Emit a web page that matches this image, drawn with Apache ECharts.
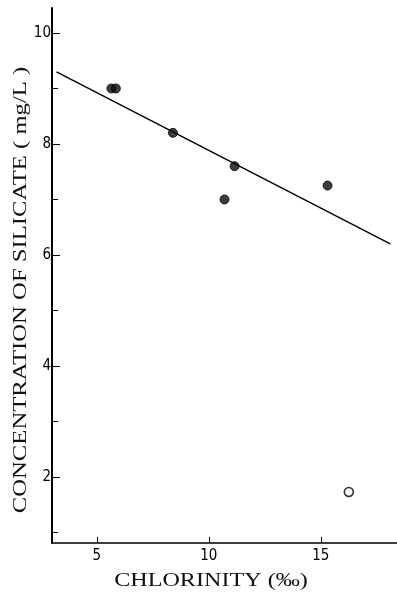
<!DOCTYPE html>
<html>
<head>
<meta charset="utf-8">
<script src="https://cdn.jsdelivr.net/npm/echarts@6/dist/echarts.min.js"></script>
<style>
  html, body { margin: 0; padding: 0; background: #fff; }
  #chart { width: 397px; height: 593px; }
</style>
</head>
<body>
<div id="chart"></div>
<script>
// Chlorinity (per mille) vs. silicate concentration (mg/L)
const chlorinity = [5.65, 5.85, 8.4, 11.15, 10.7, 15.3];
const silicate   = [9.0, 9.0, 8.2, 7.6, 7.0, 7.25];

// Outlying sample, drawn as an open circle
const outlierChlorinity = [16.25];
const outlierSilicate   = [1.73];

// Fitted regression line end points
const fitChlorinity = [3.2, 18.1];
const fitSilicate   = [9.30, 6.20];

// Axis ticks and labels
const xTickValues = [5, 10, 15];
const yMajorValues = [2, 4, 6, 8, 10];
const yMinorValues = [1, 3, 5, 7, 9];

const yTitle = 'CONCENTRATION OF SILICATE ( mg/L )';
const xTitle = 'CHLORINITY (‰)';

const serif = '"Liberation Serif", "DejaVu Serif", serif';
const narrow = '"Liberation Sans Narrow", "DejaVu Sans Condensed", "Liberation Sans", sans-serif';

const chart = echarts.init(document.getElementById('chart'), null, { renderer: 'canvas' });

const yRange = { min: 0.81, max: 10.45 };

chart.setOption({
  animation: false,
  backgroundColor: '#ffffff',
  grid: { left: 52, right: 0, top: 8, bottom: 50, containLabel: false },
  xAxis: {
    type: 'value',
    min: 3,
    max: 18.4,
    axisLine: { show: true, onZero: false, lineStyle: { color: '#000', width: 1.5 } },
    axisTick: { show: true, inside: true, length: 6, customValues: xTickValues,
                lineStyle: { color: '#000', width: 1 } },
    axisLabel: { show: true, customValues: xTickValues, margin: 6,
                 color: '#000', fontSize: 15, fontFamily: narrow },
    splitLine: { show: false }
  },
  yAxis: [
    {
      type: 'value',
      min: yRange.min,
      max: yRange.max,
      axisLine: { show: true, onZero: false, lineStyle: { color: '#000', width: 2 } },
      axisTick: { show: true, inside: true, length: 8, customValues: yMajorValues,
                  lineStyle: { color: '#000', width: 1 } },
      axisLabel: { show: true, customValues: yMajorValues, margin: 1,
                   color: '#000', fontSize: 15, fontFamily: narrow },
      splitLine: { show: false }
    },
    {
      type: 'value',
      position: 'left',
      min: yRange.min,
      max: yRange.max,
      axisLine: { show: false },
      axisTick: { show: true, inside: true, length: 6, customValues: yMinorValues,
                  lineStyle: { color: '#000', width: 1 } },
      axisLabel: { show: false },
      splitLine: { show: false }
    }
  ],
  series: [
    {
      type: 'line',
      data: fitChlorinity.map((x, i) => [x, fitSilicate[i]]),
      showSymbol: false,
      symbol: 'none',
      lineStyle: { color: '#000', width: 1.4 },
      z: 2
    },
    {
      type: 'scatter',
      data: chlorinity.map((x, i) => [x, silicate[i]]),
      symbol: 'circle',
      symbolSize: 9,
      itemStyle: { color: '#0d0d0d', borderColor: '#000', borderWidth: 1 },
      z: 3
    },
    {
      type: 'scatter',
      data: outlierChlorinity.map((x, i) => [x, outlierSilicate[i]]),
      symbol: 'circle',
      symbolSize: 9,
      itemStyle: { color: '#fff', borderColor: '#000', borderWidth: 1.6 },
      z: 3
    }
  ],
  graphic: [
    {
      // wide-set serif title, stretched along its reading direction
      type: 'text',
      x: 21,
      y: 290,
      rotation: Math.PI / 2,
      scaleX: 1.3,
      style: {
        text: yTitle,
        font: '19px ' + serif,
        fill: '#111',
        align: 'center',
        verticalAlign: 'middle'
      }
    },
    {
      type: 'text',
      x: 211,
      y: 581,
      scaleX: 1.27,
      style: {
        text: xTitle,
        font: '19px ' + serif,
        fill: '#111',
        align: 'center',
        verticalAlign: 'middle'
      }
    }
  ]
});
</script>
</body>
</html>
